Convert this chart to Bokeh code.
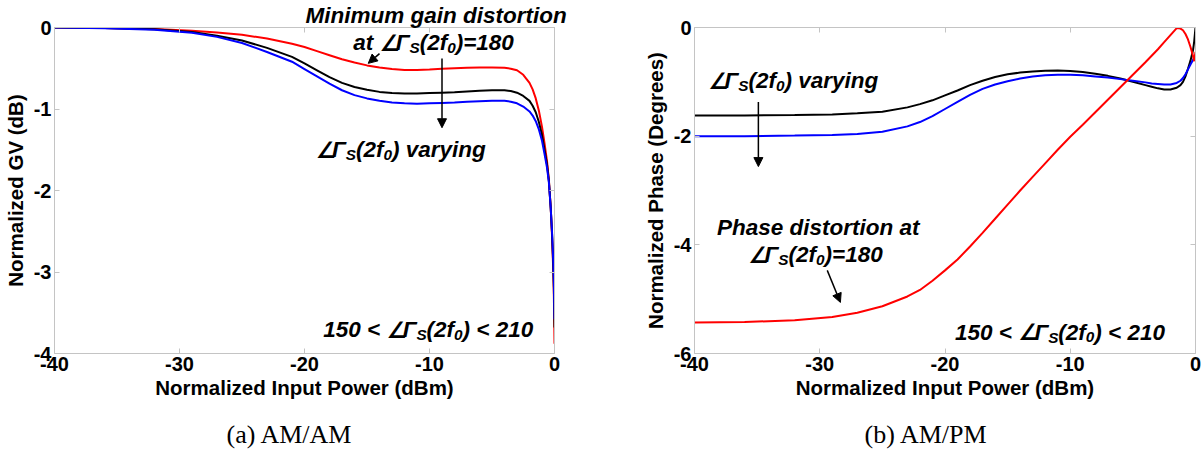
from bokeh.plotting import figure
from bokeh.layouts import row
from bokeh.models import Label, Arrow, NormalHead, FixedTicker, LinearAxis, Range1d, Title
from bokeh.embed import file_html
from bokeh.resources import INLINE

# ---------------- data ----------------
pin_gain = [-40, -36, -32, -29, -27, -25, -23, -21, -20, -19, -18, -17, -16, -15, -14, -13, -12, -11,
            -10, -9, -8, -7, -6, -5, -4, -3.5, -3, -2.5, -2, -1.75, -1.5, -1.25, -1, -0.8, -0.6,
            -0.45, -0.3, -0.2, -0.1, -0.05, 0]
gain_red = [0, -0.005, -0.018, -0.04, -0.06, -0.09, -0.135, -0.2, -0.24, -0.29, -0.34, -0.39, -0.43,
            -0.465, -0.49, -0.51, -0.52, -0.52, -0.515, -0.505, -0.5, -0.495, -0.49, -0.49, -0.495,
            -0.505, -0.525, -0.58, -0.68, -0.76, -0.87, -1.02, -1.22, -1.42, -1.64, -1.87, -2.22, -2.55,
            -2.98, -3.3, -3.88]
gain_black = [0, -0.006, -0.022, -0.055, -0.1, -0.16, -0.25, -0.36, -0.44, -0.525, -0.61, -0.68,
              -0.73, -0.765, -0.79, -0.805, -0.81, -0.81, -0.805, -0.8, -0.795, -0.785, -0.775, -0.77,
              -0.77, -0.78, -0.8, -0.84, -0.9, -0.96, -1.04, -1.16, -1.32, -1.5, -1.68, -1.88, -2.22,
              -2.52, -2.92, -3.2, -3.68]
gain_blue = [0, -0.008, -0.027, -0.065, -0.115, -0.19, -0.3, -0.42, -0.51, -0.6, -0.69, -0.77, -0.83,
             -0.87, -0.9, -0.92, -0.93, -0.935, -0.93, -0.925, -0.92, -0.91, -0.905, -0.9, -0.9,
             -0.91, -0.93, -0.97, -1.03, -1.08, -1.15, -1.25, -1.39, -1.55, -1.72, -1.9, -2.22, -2.5,
             -2.86, -3.12, -3.58]

pin_phase = [-40, -36, -32, -29, -27, -25, -23, -22, -21, -20, -19, -18, -17, -16, -15, -14, -13, -12,
             -11, -10, -9, -8, -7, -6, -5, -4, -3.5, -3, -2.5, -2, -1.5, -1.2, -1, -0.8, -0.6, -0.4,
             -0.2, -0.1, 0]
phase_black = [-1.62, -1.62, -1.61, -1.6, -1.58, -1.55, -1.47, -1.41, -1.34, -1.25, -1.16, -1.06, -0.98,
               -0.91, -0.86, -0.83, -0.81, -0.795, -0.79, -0.8, -0.82, -0.85, -0.89, -0.94, -1.0,
               -1.06, -1.09, -1.12, -1.14, -1.14, -1.11, -1.06, -1.0, -0.9, -0.76, -0.61, -0.42, -0.25, 0]
phase_blue = [-2.0, -2.0, -1.99, -1.98, -1.96, -1.92, -1.82, -1.74, -1.63, -1.5, -1.37, -1.24, -1.13,
              -1.05, -0.99, -0.94, -0.9, -0.88, -0.87, -0.87, -0.88, -0.9, -0.92, -0.95, -0.98, -1.01,
              -1.03, -1.04, -1.05, -1.05, -1.02, -0.98, -0.93, -0.86, -0.77, -0.68, -0.6, -0.55, -0.5]
phase_red = [-5.43, -5.42, -5.39, -5.33, -5.25, -5.13, -4.95, -4.83, -4.66, -4.47, -4.27, -4.03, -3.78,
             -3.52, -3.26, -3.0, -2.75, -2.5, -2.25, -2.01, -1.79, -1.56, -1.33, -1.1, -0.87, -0.64,
             -0.52, -0.4, -0.27, -0.14, -0.01, -0.02, -0.05, -0.12, -0.22, -0.36, -0.52, -0.62, -0.45]

x_ticks = [-40, -30, -20, -10, 0]
gain_ticks = [0, -1, -2, -3, -4]
phase_ticks = [0, -2, -4, -6]

FONT = "Liberation Sans"
GRAY = "#c4c4c4"
ANN = 22.5


def hyphen_labels(ticks):
    return {t: str(t) for t in ticks}


def make_fig(width, left, right, yr, yticks, ylabel, top_text, top_offset, cap_text, cap_offset):
    p = figure(width=width, height=454, output_backend="svg", toolbar_location=None,
               x_range=Range1d(-40, 0), y_range=Range1d(*yr),
               frame_width=width - left - right, frame_height=326,
               min_border_left=left, min_border_right=right, min_border_top=27, min_border_bottom=101,
               outline_line_color=None, background_fill_color="white", border_fill_color="white")
    p.grid.visible = False
    p.xaxis.ticker = FixedTicker(ticks=x_ticks)
    p.yaxis.ticker = FixedTicker(ticks=yticks)
    p.xaxis.major_label_overrides = hyphen_labels(x_ticks)
    p.yaxis.major_label_overrides = hyphen_labels(yticks)
    for ax in (p.xaxis[0], p.yaxis[0]):
        ax.axis_line_color = GRAY
        ax.major_tick_line_color = GRAY
        ax.major_tick_in = 5
        ax.major_tick_out = 0
        ax.minor_tick_line_color = None
        ax.major_label_text_font = FONT
        ax.major_label_text_font_style = "bold"
        ax.major_label_text_font_size = "20px"
        ax.major_label_text_color = "black"
        ax.major_label_standoff = 3
        ax.axis_label_text_font = FONT
        ax.axis_label_text_font_style = "bold"
        ax.axis_label_text_font_size = "20.5px"
        ax.axis_label_text_color = "black"
    p.xaxis.axis_label = "Normalized Input Power (dBm)"
    p.xaxis.axis_label_standoff = 2
    p.yaxis.axis_label = ylabel
    p.yaxis.axis_label_standoff = 4
    for side, tk in (("above", x_ticks), ("right", yticks)):
        ax = LinearAxis(ticker=FixedTicker(ticks=tk), axis_line_color=GRAY,
                        major_tick_line_color=GRAY, major_tick_in=5, major_tick_out=0,
                        minor_tick_line_color=None, major_label_text_font_size="1px",
                        major_label_text_color=None, major_label_standoff=0)
        p.add_layout(ax, side)
    if top_text:
        p.title.text = top_text
        p.title.align = "left"
        p.title.offset = top_offset
        p.title.standoff = 0
        p.title.text_font = FONT
        p.title.text_font_size = f"{ANN}px"
        p.title.text_font_style = "bold italic"
        p.title.text_color = "black"
    cap = Title(text=cap_text, align="left", offset=cap_offset, standoff=32,
                text_font="Liberation Serif", text_font_size="26px", text_font_style="normal",
                text_color="black")
    p.add_layout(cap, "below")
    return p


W = {' ': 0.278, '(': 0.333, ')': 0.333, '<': 0.584, '=': 0.584, 'f': 0.333, 'S': 0.667,
     'Γ': 0.611, 'a': 0.556, 't': 0.333, 'v': 0.556, 'r': 0.389, 'y': 0.556, 'i': 0.278,
     'n': 0.611, 'g': 0.611, '∠': 0.72}


def tw(s, size):
    return sum(W.get(c, 0.556) for c in s) * size


def rich(p, x, y, segs, size=ANN):
    off = 0.0
    base = 0.0
    for txt, kind in segs:
        if kind == "sub":
            sz = size * 0.68
            yo = base - 0.22 * size
        else:
            sz = size
            yo = base
        font = "DejaVu Sans" if txt == "∠" else FONT
        p.add_layout(Label(x=x, y=y, x_offset=off, y_offset=yo, text=txt, text_font=font,
                           text_font_size=f"{sz:.1f}px", text_font_style="bold italic",
                           text_align="left", text_baseline="alphabetic", text_color="black"))
        off += tw(txt, sz)


def angle(prefix, suffix):
    return [(prefix, "n"), ("∠", "n"), ("Γ", "n"), ("S", "sub"), ("(2f", "n"), ("0", "sub"), (suffix, "n")]


def arrow(p, x0, y0, x1, y1):
    p.add_layout(Arrow(end=NormalHead(size=9, fill_color="black", line_color="black"),
                       x_start=x0, y_start=y0, x_end=x1, y_end=y1,
                       line_color="black", line_width=1.5))


# ---------------- (a) AM/AM ----------------
p1 = make_fig(621, 51, 70, (-4, 0), gain_ticks, "Normalized GV (dB)",
              "Minimum gain distortion", 251, "(a) AM/AM", 172)
p1.line(pin_gain, gain_red, line_color="#ff0000", line_width=2)
p1.line(pin_gain, gain_black, line_color="black", line_width=2)
p1.line(pin_gain, gain_blue, line_color="#0000ff", line_width=2)

rich(p1, -16.1, -0.19, angle("at ", ")=180"))
rich(p1, -19.1, -1.5, angle("", ") varying"))
rich(p1, -18.5, -3.71, angle("150 < ", ") < 210"))
arrow(p1, -14.0, -0.32, -14.9, -0.44)
arrow(p1, -9.0, -0.38, -9.0, -1.23)

# ---------------- (b) AM/PM ----------------
p2 = make_fig(583, 70, 12, (-6, 0), phase_ticks, "Normalized Phase (Degrees)",
              "", 0, "(b) AM/PM", 170)
p2.line(pin_phase, phase_black, line_color="black", line_width=2)
p2.line(pin_phase, phase_blue, line_color="#0000ff", line_width=2)
p2.line(pin_phase, phase_red, line_color="#ff0000", line_width=2)

rich(p2, -38.9, -0.98, angle("", ") varying"))
rich(p2, -38.2, -3.68, [("Phase distortion at", "n")])
rich(p2, -35.7, -4.18, angle("", ")=180"))
rich(p2, -19.2, -5.61, angle("150 < ", ") < 210"))
arrow(p2, -34.9, -1.37, -34.9, -2.56)
arrow(p2, -29.4, -4.47, -28.35, -5.06)

layout = row(p1, p2)
open("out.html", "w").write(file_html(layout, INLINE))
